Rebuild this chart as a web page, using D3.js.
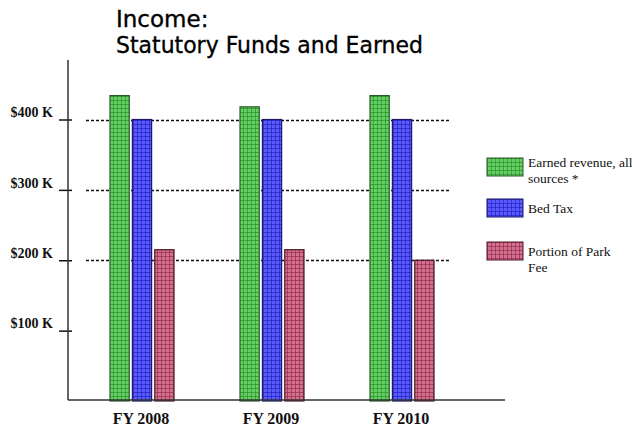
<!DOCTYPE html>
<html>
<head>
<meta charset="utf-8">
<script src="https://cdn.jsdelivr.net/npm/d3@7"></script>
<style>
  body { margin: 0; background: #fff; }
  svg { display: block; }
</style>
</head>
<body>
<svg width="641" height="430"></svg>
<script>
// values in $K
const years = ["FY 2008", "FY 2009", "FY 2010"]
const seriesNames = ["earned", "bedTax", "parkFee"]
const earned = [434, 418, 434]
const bedTax = [400, 400, 400]
const parkFee = [215, 215, 200]
const yTicks = [100, 200, 300, 400]
const gridTicks = [200, 300, 400]
const legendLabels = [["Earned revenue, all", "sources *"], ["Bed Tax"], ["Portion of Park", "Fee"]]

const colors = {
    earned:  { fill: "#62d162", line: "#2f8f2f", edge: "#2a5a2a" },
    bedTax:  { fill: "#5a5aff", line: "#2222bb", edge: "#1a1a66" },
    parkFee: { fill: "#d3708f", line: "#962e4e", edge: "#4a1a26" }
}

const svg = d3.select("svg")

// checked fill, one pattern per series
const defs = svg.append("defs")
seriesNames.forEach(function(s){
    const p = defs.append("pattern")
        .attr("id", "pat-" + s)
        .attr("patternUnits", "userSpaceOnUse")
        .attr("width", 4).attr("height", 4)
    p.append("rect").attr("width", 4).attr("height", 4).attr("fill", colors[s].fill)
    p.append("rect").attr("x", 0).attr("y", 0).attr("width", 4).attr("height", 1)
        .attr("fill", colors[s].line).attr("opacity", 0.7)
    p.append("rect").attr("x", 0).attr("y", 0).attr("width", 1).attr("height", 4)
        .attr("fill", colors[s].line).attr("opacity", 0.7)
})

const y = d3.scaleLinear().domain([0, 400]).range([401, 119.5])
const x = d3.scalePoint().domain(years).range([141, 401])
const inner = d3.scaleBand().domain(seriesNames).range([-31, 33]).paddingInner(0.14)

const axisX = 68

// dashed gridlines
svg.append("g").selectAll("line")
    .data(gridTicks)
    .enter().append("line")
    .attr("x1", 86).attr("x2", 450)
    .attr("y1", function(d){ return Math.round(y(d)) + 0.5 })
    .attr("y2", function(d){ return Math.round(y(d)) + 0.5 })
    .attr("stroke", "#111")
    .attr("stroke-width", 1.3)
    .attr("stroke-dasharray", "3,2")

// bars
const data = years.map(function(yr, i){
    return { year: yr, earned: earned[i], bedTax: bedTax[i], parkFee: parkFee[i] }
})

svg.append("g").selectAll("g")
    .data(data)
    .enter().append("g")
    .attr("transform", function(d){ return "translate(" + x(d.year) + ",0)" })
    .selectAll("rect")
    .data(function(d){ return seriesNames.map(function(s){ return { s: s, v: d[s] } }) })
    .enter().append("rect")
    .attr("x", function(d){ return inner(d.s) })
    .attr("width", inner.bandwidth())
    .attr("y", function(d){ return y(d.v) })
    .attr("height", function(d){ return y(0) - y(d.v) })
    .attr("fill", function(d){ return "url(#pat-" + d.s + ")" })
    .attr("stroke", function(d){ return colors[d.s].edge })
    .attr("stroke-width", 1.2)

// y axis
const yAxis = d3.axisLeft(y).tickValues(yTicks).tickSize(9).tickPadding(6)
    .tickFormat(function(d){ return "$" + d + " K" })
const ga = svg.append("g").attr("transform", "translate(" + axisX + ",0)").call(yAxis)
ga.select(".domain").remove()
ga.selectAll(".tick line").attr("x1", 4).attr("stroke", "#111").attr("stroke-width", 1.5)
ga.selectAll(".tick text")
    .attr("dy", "-0.2em")
    .attr("font-family", "'Liberation Serif', serif")
    .attr("font-weight", "bold")
    .attr("font-size", 14)
    .attr("fill", "#111")

svg.append("line")
    .attr("x1", axisX).attr("x2", axisX)
    .attr("y1", 60).attr("y2", 400)
    .attr("stroke", "#333").attr("stroke-width", 1.5)

// baseline
svg.append("line")
    .attr("x1", axisX).attr("x2", 505)
    .attr("y1", 400).attr("y2", 400)
    .attr("stroke", "#333").attr("stroke-width", 1.5)

// x labels
svg.append("g").selectAll("text")
    .data(years)
    .enter().append("text")
    .attr("x", function(d){ return x(d) })
    .attr("y", 424)
    .attr("text-anchor", "middle")
    .attr("font-family", "'Liberation Serif', serif")
    .attr("font-weight", "bold")
    .attr("font-size", 16)
    .attr("fill", "#111")
    .text(function(d){ return d })

// title
const title = svg.append("g")
    .attr("font-family", "'DejaVu Sans', sans-serif")
    .attr("font-size", 23)
    .attr("fill", "#000")
    .attr("stroke", "#000")
    .attr("stroke-width", 0.35)
title.append("text").attr("x", 116).attr("y", 27).text("Income:")
title.append("text").attr("x", 116).attr("y", 53)
    .attr("textLength", 307).attr("lengthAdjust", "spacingAndGlyphs")
    .text("Statutory Funds and Earned")

// legend
const legend = svg.append("g").selectAll("g")
    .data(seriesNames)
    .enter().append("g")
    .attr("transform", function(d, i){ return "translate(487," + [158, 199, 242][i] + ")" })

legend.append("rect")
    .attr("width", 36).attr("height", 18)
    .attr("fill", function(d){ return "url(#pat-" + d + ")" })
    .attr("stroke", function(d){ return colors[d].edge })
    .attr("stroke-width", 1)

legend.each(function(d, i){
    const t = d3.select(this).append("text")
        .attr("font-family", "'Liberation Serif', serif")
        .attr("font-size", 13.5)
        .attr("fill", "#111")
    legendLabels[i].forEach(function(line, j){
        t.append("tspan").attr("x", 41).attr("y", (i === 0 ? 9 : 14) + j * 16).text(line)
    })
})
</script>
</body>
</html>
